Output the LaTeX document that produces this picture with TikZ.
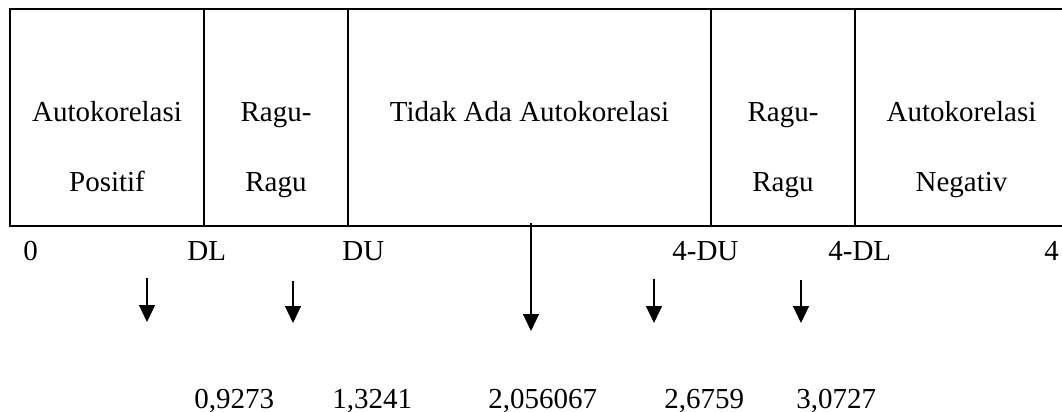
\documentclass[tikz,border=0pt]{standalone}
\usepackage{fontspec}
\setmainfont{Liberation Serif}
\usetikzlibrary{arrows.meta, positioning}
\tikzset{
    cell/.style = {rectangle, draw=black, line width=0.9pt, minimum height=108.5pt, inner sep=0pt, outer sep=0pt},
    celltext/.style = {anchor=base, inner sep=0pt, font=\fontsize{14.5}{17}\selectfont},
    ticktext/.style = {anchor=base west, inner sep=0pt, font=\fontsize{14.5}{17}\selectfont},
    arrow/.style = {line width=0.6pt, -{Triangle[width=8pt,length=8.5pt]}}
}
\begin{document}
\begin{tikzpicture}[x=0.5pt, y=-0.5pt]
                    \clip (0,0) rectangle (1062,412);

                    % Regions of the test
                    \node[cell, minimum width=97pt, anchor=north west] (posA) at (10,9) {};
                    \node[cell, minimum width=72pt, right=0pt of posA] (raguA) {};
                    \node[cell, minimum width=181.5pt, right=0pt of raguA] (tidak) {};
                    \node[cell, minimum width=72pt, right=0pt of tidak] (raguB) {};
                    \node[cell, minimum width=106.5pt, right=0pt of raguB] (negB) {};

                    % Region texts
                    \node[celltext] (txtPos1) at (posA.center |- 0,121) {Autokorelasi};
                    \node[celltext] (txtPos2) at (posA.center |- 0,191) {Positif};
                    \node[celltext] (txtRaguA1) at (raguA.center |- 0,121) {Ragu-};
                    \node[celltext] (txtRaguA2) at (raguA.center |- 0,191) {Ragu};
                    \node[celltext] (txtTidak) at (tidak.center |- 0,121) {Tidak Ada Autokorelasi};
                    \node[celltext] (txtRaguB1) at (raguB.center |- 0,121) {Ragu-};
                    \node[celltext] (txtRaguB2) at (raguB.center |- 0,191) {Ragu};
                    \node[celltext] (txtNeg1) at (negB.center |- 0,121) {Autokorelasi};
                    \node[celltext] (txtNeg2) at (negB.center |- 0,191) {Negativ};

                    % Bounds
                    \node[ticktext] (tick0) at (23,260) {0};
                    \node[ticktext] (tickDL) at (187,260) {DL};
                    \node[ticktext] (tickDU) at (342,260) {DU};
                    \node[ticktext] (tick4DU) at (672,260) {4-DU};
                    \node[ticktext] (tick4DL) at (828,260) {4-DL};
                    \node[ticktext] (tick4) at (1044,260) {4};

                    % Arrows
                    \coordinate (arrAs) at (147,278);
                    \coordinate (arrAe) at (147,322);
                    \coordinate (arrBs) at (293,281);
                    \coordinate (arrBe) at (293,323);
                    \coordinate (arrCs) at (531,223);
                    \coordinate (arrCe) at (531,331);
                    \coordinate (arrDs) at (654,279);
                    \coordinate (arrDe) at (654,323);
                    \coordinate (arrEs) at (801,280);
                    \coordinate (arrEe) at (801,323);
                    \draw[arrow] (arrAs) -- (arrAe);
                    \draw[arrow] (arrBs) -- (arrBe);
                    \draw[arrow] (arrCs) -- (arrCe);
                    \draw[arrow] (arrDs) -- (arrDe);
                    \draw[arrow] (arrEs) -- (arrEe);

                    % Values
                    \node[ticktext] (valA) at (194,408) {0,9273};
                    \node[ticktext] (valB) at (332,408) {1,3241};
                    \node[ticktext] (valC) at (488,408) {2,056067};
                    \node[ticktext] (valD) at (664,408) {2,6759};
                    \node[ticktext] (valE) at (796,408) {3,0727};
                \end{tikzpicture}
\end{document}
